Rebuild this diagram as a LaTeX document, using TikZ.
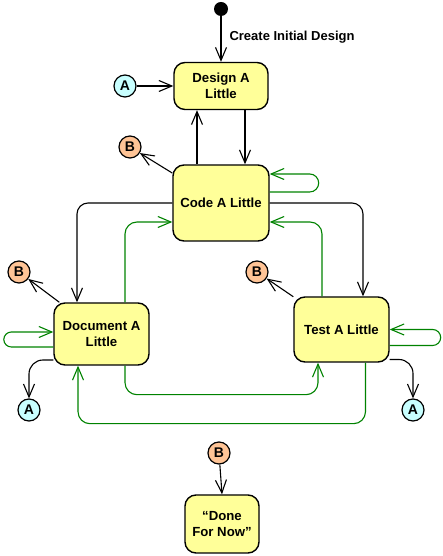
\documentclass[tikz,border=0pt]{standalone}
\usepackage{fontspec}
\setmainfont{Liberation Sans}
\usepackage{tikz}
\usetikzlibrary{arrows.meta}
\definecolor{st_yellow}{RGB}{255, 255, 153}
\definecolor{pt_cyan}{RGB}{200, 255, 255}
\definecolor{pt_peach}{RGB}{255, 196, 150}
\definecolor{ln_green}{RGB}{0, 130, 0}
\tikzstyle{st}=[rectangle,rounded corners=11pt,fill=st_yellow,draw=black,
  line width=1.4pt,align=center,font=\fontsize{13.2}{16}\selectfont\bfseries]
\tikzstyle{an}=[circle,fill=pt_cyan,draw=black,line width=1.2pt,inner sep=0pt,
  minimum size=22pt,font=\fontsize{14}{15}\selectfont\bfseries]
\tikzstyle{bn}=[circle,fill=pt_peach,draw=black,line width=1.2pt,inner sep=0pt,
  minimum size=22pt,font=\fontsize{14}{15}\selectfont\bfseries]
\tikzstyle{ini}=[circle,fill=black,inner sep=0pt,minimum size=14pt]
\tikzstyle{ln}=[line width=1.1pt,-{Straight Barb[length=13pt,width=11pt,line width=1.1pt]}]
\tikzstyle{gl}=[ln,draw=ln_green]

\begin{document}
\begin{tikzpicture}[x=1pt,y=1pt]
    \useasboundingbox (0,0) rectangle (443,556);
    \node [style=ini] (start) at (221,547) {};
    \node [style=st,minimum width=94pt,minimum height=47pt] (design) at (221,470) {Design A\\Little};
    \node [style=st,minimum width=96pt,minimum height=76pt] (code) at (221,353) {Code A Little};
    \node [style=st,minimum width=95pt,minimum height=62pt] (doc) at (101.5,222) {Document A\\Little};
    \node [style=st,minimum width=95pt,minimum height=65pt] (test) at (341.5,226.5) {Test A Little};
    \node [style=st,minimum width=74pt,minimum height=58pt] (done) at (222,32) {“Done\\For Now”};
    \node [style=an] (adesign) at (125,470) {A};
    \node [style=bn] (bcode) at (130,409) {B};
    \node [style=bn] (bdoc) at (19,284) {B};
    \node [style=bn] (btest) at (257,284) {B};
    \node [style=an] (adoc) at (29,146) {A};
    \node [style=an] (atest) at (413,146) {A};
    \node [style=bn] (bdone) at (219,103) {B};
    \node [anchor=west,font=\fontsize{13}{15}\selectfont\bfseries] (lbl) at (226,519) {Create Initial Design};
    % black transitions
    \draw [style=ln] (start) to (design.north);
    \draw [style=ln] (adesign) to (design.west);
    \draw [style=ln] ([xshift=-24pt]code.north) to ([xshift=-24pt]design.south);
    \draw [style=ln] ([xshift=24pt]design.south) to ([xshift=24pt]code.north);
    \draw [style=ln] (code) to (bcode);
    \draw [style=ln] (doc) to (bdoc);
    \draw [style=ln] (test) to (btest);
    \draw [style=ln,rounded corners=11pt] (code.west) -| ([xshift=-24.5pt]doc.north);
    \draw [style=ln,rounded corners=11pt] (code.east) -| ([xshift=21.5pt]test.north);
    \draw [style=ln,rounded corners=14pt] ([yshift=-26pt]doc.west) -| (adoc.north);
    \draw [style=ln,rounded corners=14pt] ([yshift=-30pt]test.east) -| (atest.north);
    \draw [style=ln] (bdone) to (done.north);
    % green transitions
    \draw [style=gl] ([yshift=11pt]code.east) -- ++(40,0)
      arc [start angle=-90,end angle=90,radius=9] -- ([yshift=29pt]code.east);
    \draw [style=gl] ([yshift=-16pt]test.east) -- ++(43,0)
      arc [start angle=-90,end angle=90,radius=8] -- (test.east);
    \draw [style=gl] ([yshift=-13pt]doc.west) -- ++(-42,0)
      arc [start angle=270,end angle=90,radius=7.5] -- ([yshift=2pt]doc.west);
    \draw [style=gl,rounded corners=12pt] ([xshift=23.5pt]doc.north) |- ([yshift=-19pt]code.west);
    \draw [style=gl,rounded corners=12pt] ([xshift=-19.5pt]test.north) |- ([yshift=-19pt]code.east);
    \draw [style=gl,rounded corners=12pt] ([xshift=23.5pt]doc.south) -- ++(0,-29) -| ([xshift=-23.5pt]test.south);
    \draw [style=gl,rounded corners=12pt] ([xshift=24pt]test.south) -- ++(0,-61) -| ([xshift=-23.5pt]doc.south);
  \end{tikzpicture}
\end{document}
